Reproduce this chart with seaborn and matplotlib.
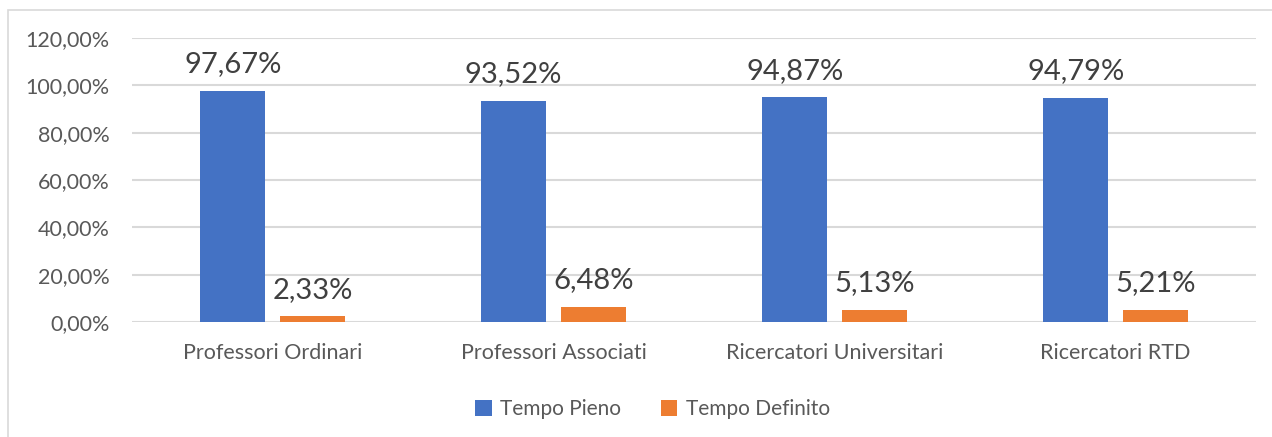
import pandas as pd
import matplotlib.pyplot as plt
import seaborn as sns
from matplotlib.patches import Rectangle

categories = ["Professori Ordinari", "Professori Associati", "Ricercatori Universitari", "Ricercatori RTD"]
tempo_pieno = [0.9767, 0.9352, 0.9487, 0.9479]
tempo_definito = [0.0233, 0.0648, 0.0513, 0.0521]
series = ["Tempo Pieno", "Tempo Definito"]
yticks = [0, 0.2, 0.4, 0.6, 0.8, 1.0, 1.2]

df = pd.DataFrame({
    "categoria": categories * 2,
    "valore": tempo_pieno + tempo_definito,
    "regime": [series[0]] * 4 + [series[1]] * 4,
})

sns.set_style("white")
plt.rcParams["font.family"] = ["Lato", "DejaVu Sans"]

fig = plt.figure(figsize=(12.72, 4.37), dpi=100)
ax = fig.add_axes([0.1038, 0.2632, 0.8836, 0.6498])

# chart frame
fig.patches.append(Rectangle((8 / 1272, -0.01), 1.0, 1 - 10 / 437 + 0.01, transform=fig.transFigure,
                             fill=False, edgecolor="#D9D9D9", lw=1.2))

sns.barplot(data=df, x="categoria", y="valore", hue="regime", hue_order=series,
            palette=["#4472C4", "#ED7D31"], saturation=1, width=0.567, gap=0.19, ax=ax,
            legend=True, zorder=3, linewidth=0)

fmt = lambda v: f"{v * 100:.2f}%".replace(".", ",")
for cont in ax.containers:
    ax.bar_label(cont, labels=[fmt(v) for v in cont.datavalues], padding=10,
                 fontsize=21, color="#404040")

ax.set_ylim(0, 1.2)
ax.set_xlim(-0.5, 3.5)
ax.set_yticks(yticks)
ax.set_yticklabels([fmt(v) for v in yticks], fontsize=15.5, color="#595959")
ax.tick_params(axis="x", labelsize=15.5, labelcolor="#595959", length=0, pad=15)
ax.tick_params(axis="y", length=0, pad=16)
ax.set_xlabel("")
ax.set_ylabel("")
ax.grid(axis="y", color="#D9D9D9", lw=1.5, zorder=0)
for s in ax.spines.values():
    s.set_visible(False)

ax.legend(loc="upper center", bbox_to_anchor=(0.463, -0.205), ncol=2, frameon=False,
          fontsize=15, labelcolor="#595959", handlelength=0.8, handleheight=0.8,
          handletextpad=0.4, columnspacing=1.9)

fig.savefig("out.png", dpi=100)
